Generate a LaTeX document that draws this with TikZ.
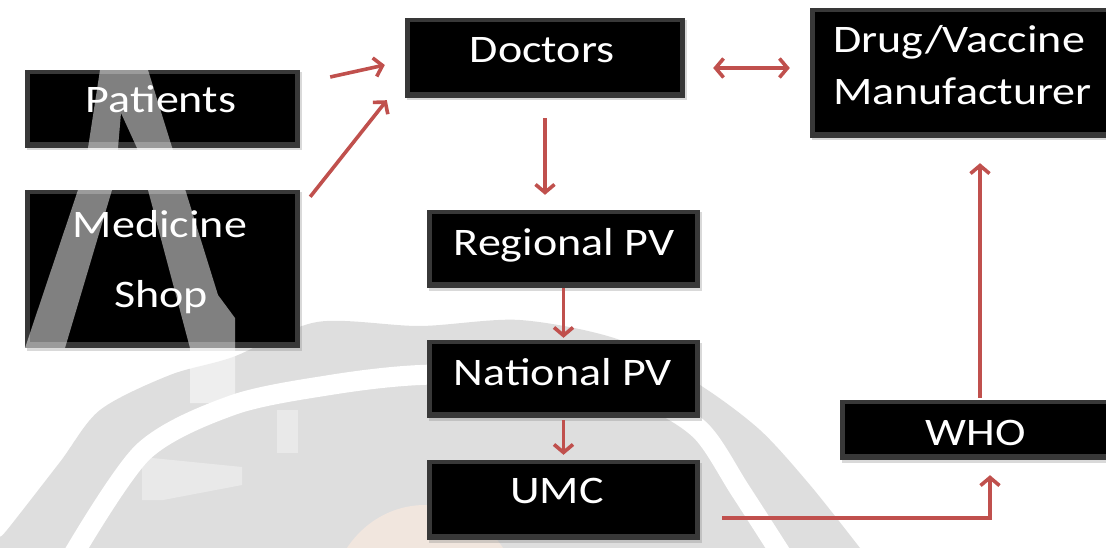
\documentclass[tikz,border=0pt]{standalone}
\usepackage{fontspec}
\setmainfont{Carlito}[FakeStretch=1.18]
\usetikzlibrary{arrows.meta,calc,shadows}
\definecolor{arrowred}{HTML}{C0504D}
\definecolor{wmgray}{HTML}{DEDEDE}
\definecolor{wmpeach}{HTML}{F1E6DE}
\begin{document}
\begin{tikzpicture}[x=1pt,y=-1pt,
  box/.style={fill=black, draw=none, inner sep=0,
    drop shadow={shadow xshift=1.5pt, shadow yshift=-2.5pt, opacity=0.3},
    path picture={
      \fill[black!78] (path picture bounding box.south west) rectangle (path picture bounding box.north east);
      \fill[black] ([shift={(5pt,6pt)}]path picture bounding box.south west) rectangle ([shift={(-5pt,-4pt)}]path picture bounding box.north east);
    }},
  lbl/.style={text=white, font=\fontsize{39}{47}\selectfont, inner sep=0, anchor=base},
  arr/.style={draw=arrowred, line width=3.6pt, -{Straight Barb[length=8pt,width=19pt]}},
  arrb/.style={draw=arrowred, line width=3.6pt, {Straight Barb[length=8pt,width=19pt]}-{Straight Barb[length=8pt,width=19pt]}},
  wmlight/.style={fill=white, opacity=0.5}
]
\useasboundingbox (0,0) rectangle (1106,548);
\clip (0,0) rectangle (1106,548);

% faint background watermark
\fill[wmgray] (0,548) -- plot[smooth] coordinates {(0,536) (7,530) (60,462) (100,410) (170,375) (233,357) (317,322) (420,326) (520,320) (620,340) (700,385) (760,430) (810,485) (860,548)} -- cycle;
\fill[wmpeach] (425,605) ellipse [x radius=95pt, y radius=100pt];
\draw[white, line width=20pt] plot[smooth] coordinates {(70,560) (143,452) (233,405) (330,385) (420,375) (550,375) (640,395) (700,430) (740,490) (785,560)};

% boxes
\node[box, minimum width=275pt, minimum height=78pt]  (pat) at (162.5,109) {};
\node[box, minimum width=275pt, minimum height=158pt] (med) at (162.5,269) {};
\node[box, minimum width=280pt, minimum height=80pt]  (doc) at (545,58) {};
\node[box, minimum width=320pt, minimum height=130pt] (man) at (970,73) {};
\node[box, minimum width=273pt, minimum height=78pt]  (reg) at (563.5,249) {};
\node[box, minimum width=273pt, minimum height=78pt]  (nat) at (563.5,379) {};
\node[box, minimum width=273pt, minimum height=80pt]  (umc) at (563.5,500) {};
\node[box, minimum width=272pt, minimum height=60pt]  (who) at (976,430) {};

% watermark letter over the left boxes
\fill[wmlight] (100,70) -- (148,70) -- (218,295) -- (235,318) -- (235,403) -- (190,403) -- (190,348) -- (148,190) -- (137,148) -- (121,113) -- (118,148) -- (112,190) -- (65,348) -- (25,348) -- (78,190) -- (88,148) -- cycle;
\fill[wmlight, opacity=0.35] (142,457) -- (242,467) -- (242,485) -- (163,500) -- (142,500) -- cycle;
\fill[wmlight, opacity=0.35] (277,410) rectangle (298,453);

% texts
\node[lbl] (tpat) at (161,113) {Patients};
\node[lbl] (tmed1) at (160,237) {Medicine};
\node[lbl] (tmed2) at (161,307) {Shop};
\node[lbl] (tdoc) at (542,63) {Doctors};
\node[lbl, anchor=base west] (tman1) at (833,53) {Drug/Vaccine};
\node[lbl, anchor=base west] (tman2) at (833,105) {Manufacturer};
\node[lbl] (treg) at (564,255) {Regional PV};
\node[lbl] (tnat) at (563,385) {National PV};
\node[lbl] (tumc) at (557,503) {UMC};
\node[lbl] (twho) at (976,445) {WHO};

% connectors
\draw[arr] ($(pat.east)+(30,-32)$) -- ($(doc.west)+(-20,7)$);
\draw[arr] ($(med.north east)+(10,7)$) -- ($(doc.south west)+(-18,2)$);
\coordinate (dm) at ($(doc.east)+(28,10)$);
\draw[arrb, shorten >=20pt] (dm) -- (dm -| man.west);
\draw[arr, shorten <=20pt, shorten >=15pt] (doc.south) -- (doc.south |- reg.north);
\draw[arr, shorten >=2pt] (reg.south) -- (nat.north);
\draw[arr, shorten <=2pt, shorten >=5pt] (nat.south) -- (umc.north);
\coordinate (u1) at ($(umc.east)+(22,18)$);
\coordinate (w1) at ($(who.south)+(14,0)$);
\draw[arr, shorten >=15pt] (u1) -| (w1);
\coordinate (w2) at ($(who.north)+(4,0)$);
\draw[arr, shorten <=2pt, shorten >=25pt] (w2) -- (w2 |- man.south);
\end{tikzpicture}
\end{document}
